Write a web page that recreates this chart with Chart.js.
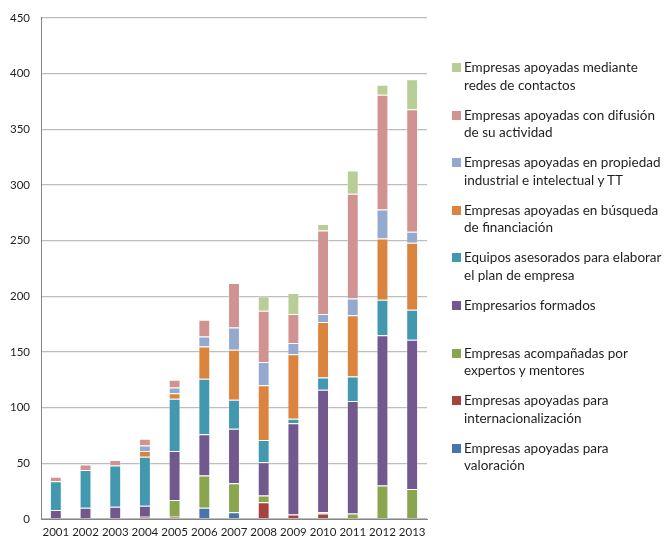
<!DOCTYPE html>
<html>
<head>
<meta charset="utf-8">
<script src="https://cdn.jsdelivr.net/npm/chart.js@4"></script>
<style>
  body { margin: 0; background: #fff; }
  #wrap { position: relative; width: 664px; height: 540px; }
  #legend { position: absolute; left: 452px; top: 0; font-family: Lato, "Open Sans", sans-serif; font-size: 13.5px; color: #1f1f1f; }
  .item { position: absolute; left: 0; width: 212px; line-height: 17.6px; }
  .sw { position: absolute; left: 0; top: 4px; width: 9px; height: 9px; }
  .txt { margin-left: 12px; white-space: nowrap; }
</style>
</head>
<body>
<div id="wrap">
  <canvas id="chart" width="664" height="540"></canvas>
  <div id="legend"></div>
</div>
<script>
const years = ['2001','2002','2003','2004','2005','2006','2007','2008','2009','2010','2011','2012','2013'];

// stacked bottom -> top
const valoracion        = [0, 0, 0, 0, 0, 10, 6, 0, 0, 0, 0, 0, 0];
const internacional     = [0, 0, 0, 2, 2, 0, 0, 15, 4, 5, 1, 0, 0];
const acompanadas       = [0, 0, 0, 0, 15, 29, 26, 6, 0, 1, 4, 30, 27];
const formados          = [8, 10, 11, 10, 44, 37, 49, 30, 82, 110, 101, 135, 134];
const equipos           = [26, 34, 37, 44, 47, 50, 26, 20, 4, 11, 22, 32, 27];
const financiacion      = [0, 0, 0, 5, 5, 29, 45, 49, 58, 50, 55, 55, 60];
const propiedad         = [0, 0, 0, 5, 5, 9, 20, 21, 10, 7, 15, 26, 10];
const difusion          = [4, 5, 5, 6, 7, 15, 40, 46, 26, 75, 94, 103, 110];
const redes             = [0, 0, 0, 0, 0, 0, 0, 13, 19, 6, 21, 9, 27];

const series = [
  { label: ['Empresas apoyadas para', 'valoración'], data: valoracion, color: '#4674AB' },
  { label: ['Empresas apoyadas para', 'internacionalización'], data: internacional, color: '#A8423F' },
  { label: ['Empresas acompañadas por', 'expertos y mentores'], data: acompanadas, color: '#89A54E' },
  { label: ['Empresarios formados'], data: formados, color: '#71588F' },
  { label: ['Equipos asesorados para elaborar', 'el plan de empresa'], data: equipos, color: '#4198AF' },
  { label: ['Empresas apoyadas en búsqueda', 'de financiación'], data: financiacion, color: '#DB843D' },
  { label: ['Empresas apoyadas en propiedad', 'industrial e intelectual y TT'], data: propiedad, color: '#93A9CF' },
  { label: ['Empresas apoyadas con difusión', 'de su actividad'], data: difusion, color: '#D19392' },
  { label: ['Empresas apoyadas mediante', 'redes de contactos'], data: redes, color: '#B9CD96' }
];

const font = { family: 'Lato, "Open Sans", sans-serif', size: 11.5 };

new Chart(document.getElementById('chart'), {
  type: 'bar',
  data: {
    labels: years,
    datasets: series.map(s => ({
      label: s.label.join(' '),
      data: s.data,
      backgroundColor: s.color,
      borderColor: 'rgba(255,255,255,0.35)',
      borderWidth: 1,
      barPercentage: 0.4,
      categoryPercentage: 1.0
    }))
  },
  options: {
    responsive: false,
    animation: false,
    layout: { padding: { left: 0, right: 237, top: 16, bottom: 0 } },
    plugins: { legend: { display: false }, tooltip: { enabled: false } },
    scales: {
      x: {
        stacked: true,
        grid: { display: false, drawTicks: false },
        border: { color: '#868686', width: 1 },
        ticks: { color: '#1f1f1f', font: font, padding: 6, maxRotation: 0, autoSkip: false },
        afterFit: s => { s.height = 21; }
      },
      y: {
        stacked: true,
        min: 0,
        max: 450,
        grid: { color: '#BDBDBD', lineWidth: 1.3, drawTicks: false },
        border: { color: '#868686', width: 1 },
        ticks: { stepSize: 50, color: '#1f1f1f', font: font, padding: 11 },
        afterFit: s => { s.width = 41; }
      }
    }
  }
});

// legend on the right, top of stack first
const legend = document.getElementById('legend');
series.slice().reverse().forEach((s, i) => {
  const item = document.createElement('div');
  item.className = 'item';
  item.style.top = (59 + 47.6 * i) + 'px';
  const sw = document.createElement('div');
  sw.className = 'sw';
  sw.style.background = s.color;
  const txt = document.createElement('div');
  txt.className = 'txt';
  txt.innerHTML = s.label.join('<br>');
  item.appendChild(sw);
  item.appendChild(txt);
  legend.appendChild(item);
});
</script>
</body>
</html>
